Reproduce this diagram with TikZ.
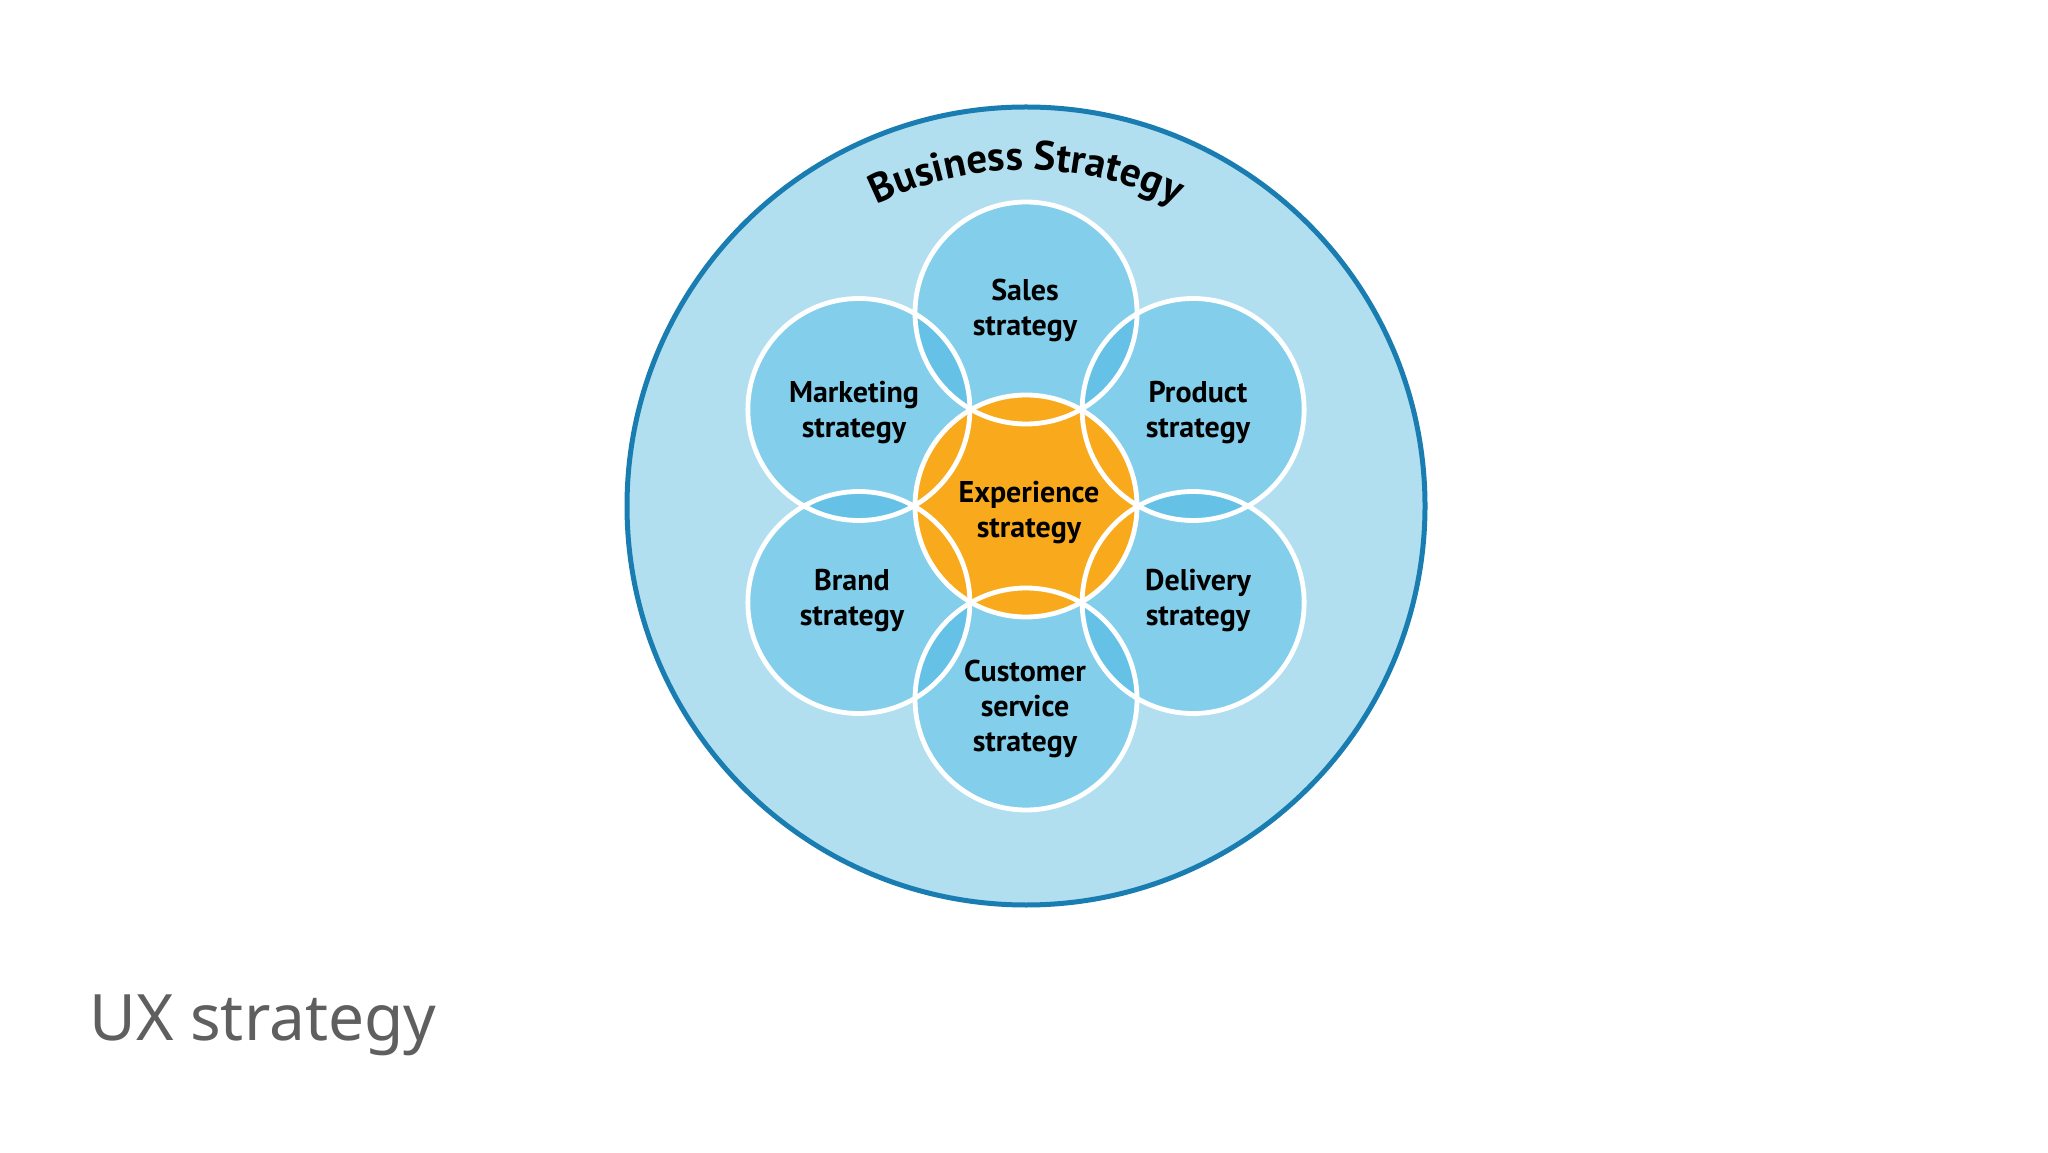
\documentclass[tikz,border=0pt]{standalone}
\usepackage{fontspec}
\setmainfont{PT Sans}
\newfontfamily\uxfont{Noto Sans}
\usetikzlibrary{decorations.text}
\definecolor{bgblue}{HTML}{B1DFF0}
\definecolor{ringblue}{HTML}{1A7DB1}
\definecolor{petal}{RGB}{40,172,222}
\definecolor{orangec}{HTML}{F8AA1C}
\definecolor{uxgray}{HTML}{5F5F5F}
\begin{document}
\begin{tikzpicture}[x=0.5pt,y=0.5pt,
  petalfill/.style={circle, minimum size=111pt, inner sep=0pt, fill=petal, fill opacity=0.33},
  ring/.style={draw=white, line width=2.4pt},
  lbl/.style={font=\bfseries\fontsize{15}{17.5}\selectfont, align=center, text=black, inner sep=0pt},
]
\useasboundingbox (0,0) rectangle (2048,1152);
\fill[white] (0,0) rectangle (2048,1152);
\coordinate (C) at (1026,646);
\node[circle, minimum size=399pt, inner sep=0pt, fill=bgblue, draw=ringblue, line width=2.5pt] (outer) at (C) {};
% petals
\node[petalfill] (sales)     at ([shift={(90:193)}]C) {};
\node[petalfill] (product)   at ([shift={(30:193)}]C) {};
\node[petalfill] (delivery)  at ([shift={(-30:193)}]C) {};
\node[petalfill] (customer)  at ([shift={(-90:193)}]C) {};
\node[petalfill] (brand)     at ([shift={(210:193)}]C) {};
\node[petalfill] (marketing) at ([shift={(150:193)}]C) {};
\node[circle, minimum size=111pt, inner sep=0pt, fill=orangec] (exp) at (C) {};
% white rims
\foreach \n in {sales,product,delivery,customer,brand,marketing,exp}
  \draw[ring] (\n.center) circle[radius=55.5pt];
% curved title
\path[decorate, decoration={text along path, text align=center,
  text={|\bfseries\fontsize{20.5}{24}\selectfont|Business Strategy}}]
  ([shift={(150:336)}]C) arc[start angle=150, end angle=30, radius=168pt];
% labels
\node[lbl] (salesL)     at (1025,842) {Sales\\strategy};
\node[lbl] (marketingL) at (854,739)  {Marketing\\strategy};
\node[lbl] (productL)   at (1198,739) {Product\\strategy};
\node[lbl] (expL)       at (1029,639) {Experience\\strategy};
\node[lbl] (brandL)     at (852,551)  {Brand\\strategy};
\node[lbl] (deliveryL)  at (1198,551) {Delivery\\strategy};
\node[lbl] (customerL)  at (1025,443) {Customer\\service\\strategy};
\node[anchor=base west, inner sep=0pt, font=\uxfont\fontsize{32}{40}\selectfont, text=uxgray] (title) at (89,112) {UX strategy};
\end{tikzpicture}
\end{document}
